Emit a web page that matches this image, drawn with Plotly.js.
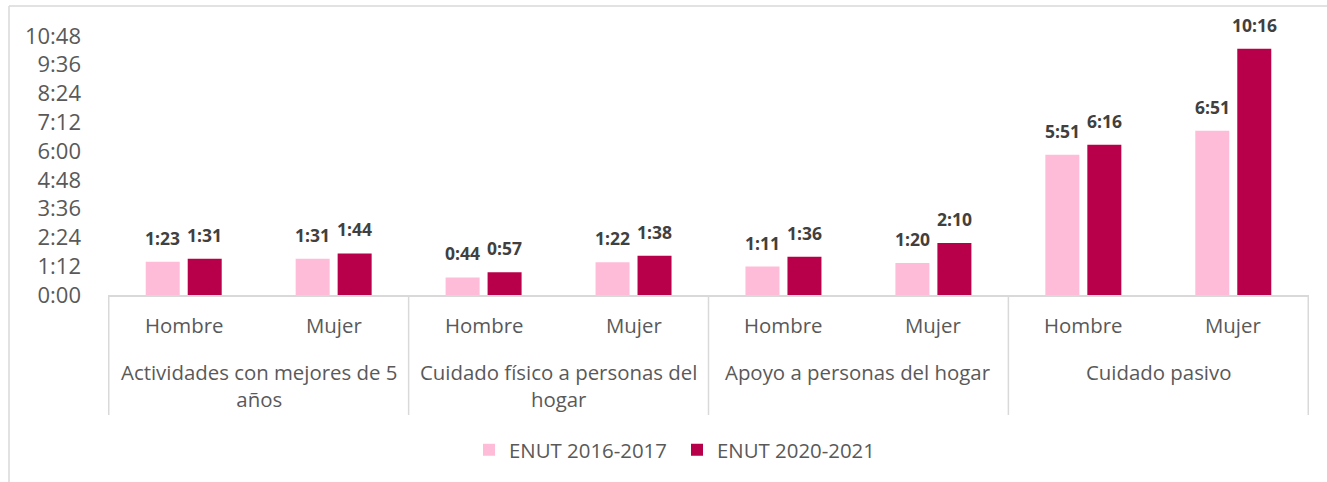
<!DOCTYPE html>
<html>
<head>
<meta charset="utf-8">
<script src="https://cdn.plot.ly/plotly-3.0.1.min.js"></script>
<style>html,body{margin:0;padding:0;background:#fff;}#chart{width:1327px;height:482px;}</style>
</head>
<body>
<div id="chart"></div>
<script>
// Data (minutes)
const groups = [
  "Actividades con mejores de 5<br>años",
  "Cuidado físico a personas del<br>hogar",
  "Apoyo a personas del hogar",
  "Cuidado pasivo"
];
const sexes = ["Hombre", "Mujer"];
const series1Name = "ENUT 2016-2017";
const series2Name = "ENUT 2020-2021";
const enut2016 = [83, 91, 44, 82, 71, 80, 351, 411];
const enut2020 = [91, 104, 57, 98, 96, 130, 376, 616];
const yTickVals = [0, 72, 144, 216, 288, 360, 432, 504, 576, 648];

function fmt(m) {
  const h = Math.floor(m / 60), mm = m % 60;
  return h + ":" + (mm < 10 ? "0" : "") + mm;
}
const xGroup = [], xSub = [];
groups.forEach(g => sexes.forEach(s => { xGroup.push(g); xSub.push(s); }));

const FONT = "Open Sans, Noto Sans, sans-serif";
const GREY = "#595959";
const CAT_SIZE = 20.4;
const mk = (name, vals, color) => ({
  type: "bar", name: name, x: [xGroup, xSub], y: vals,
  marker: {color: color}, cliponaxis: false,
  hoverinfo: "skip"
});

const data = [mk(series1Name, enut2016, "#FFBCD8"), mk(series2Name, enut2020, "#B8004A")];

const L = 108, R = 18, T = 36, B = 187, W = 1327, H = 482;
const pw = W - L - R, ph = H - T - B;
const px = x => (x - L) / pw;
const py = y => (H - B - y) / ph;

const annotations = [];
// value labels above bars
[[enut2016, -21], [enut2020, 21]].forEach(([vals, dx]) => {
  vals.forEach((v, i) => annotations.push({
    xref: "x", yref: "y", x: i, y: v, xshift: dx, yshift: 10,
    xanchor: "center", yanchor: "bottom", showarrow: false, text: fmt(v),
    font: {family: FONT, size: 17.5, color: "#404040", weight: "bold"}
  }));
});
xSub.forEach((s, i) => annotations.push({
  xref: "x", yref: "paper", x: i, y: py(325), yanchor: "middle", xanchor: "center",
  text: s, showarrow: false, font: {family: FONT, size: CAT_SIZE, color: GREY}
}));
groups.forEach((g, i) => annotations.push({
  xref: "x", yref: "paper", x: i * 2 + 0.5, y: py(356), yanchor: "top", xanchor: "center",
  text: g, showarrow: false, align: "center", font: {family: FONT, size: CAT_SIZE, color: GREY}
}));

const shapes = [
  {type: "line", xref: "paper", yref: "paper", x0: px(9), x1: px(1340), y0: py(6), y1: py(6),
   line: {color: "#d9d9d9", width: 1.5}},
  {type: "line", xref: "paper", yref: "paper", x0: px(9), x1: px(9), y0: py(6), y1: py(490),
   line: {color: "#d9d9d9", width: 1.5}}
];
for (let i = 0; i <= groups.length; i++) {
  shapes.push({type: "line", xref: "x", yref: "paper", x0: i * 2 - 0.5, x1: i * 2 - 0.5,
    y0: 0, y1: py(415), line: {color: "#d9d9d9", width: 1.5}});
}

const layout = {
  width: W, height: H,
  margin: {l: L, r: R, t: T, b: B, pad: 0},
  paper_bgcolor: "#fff", plot_bgcolor: "#fff",
  font: {family: FONT, size: CAT_SIZE, color: GREY},
  barmode: "group", bargap: 0.44, bargroupgap: 0.19,
  showlegend: true,
  legend: {orientation: "h", x: px(677), xanchor: "center", y: py(450), yanchor: "middle",
           entrywidth: 163, entrywidthmode: "pixels", itemwidth: 30,
           font: {family: FONT, size: CAT_SIZE, color: GREY}, traceorder: "normal"},
  xaxis: {type: "multicategory", showline: true, linecolor: "#d9d9d9", linewidth: 1.5,
          showgrid: false, zeroline: false, ticks: "", showticklabels: false, showdividers: false},
  yaxis: {range: [0, 648], tickvals: yTickVals, ticktext: yTickVals.map(fmt),
          showgrid: false, zeroline: false, showline: false, ticks: "",
          ticklabelstandoff: 26,
          tickfont: {family: FONT, size: 22, color: GREY}},
  annotations: annotations,
  shapes: shapes
};
Plotly.newPlot("chart", data, layout, {displayModeBar: false, staticPlot: true});
</script>
</body>
</html>
